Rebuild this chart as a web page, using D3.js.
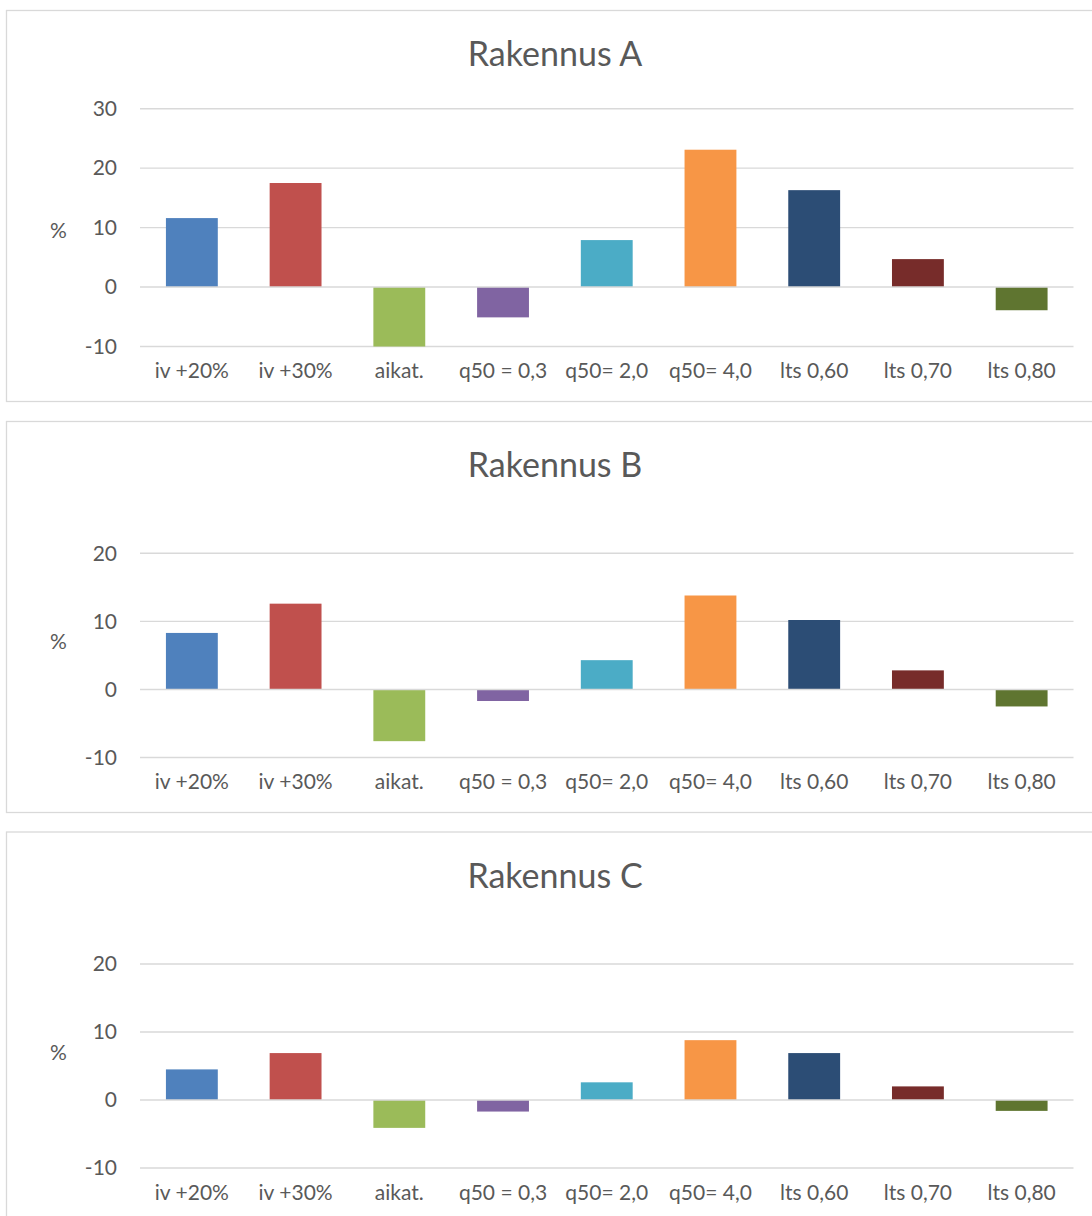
<!DOCTYPE html>
<html>
<head>
<meta charset="utf-8">
<script src="https://cdn.jsdelivr.net/npm/d3@7"></script>
<style>
  html, body { margin: 0; padding: 0; background: #ffffff; }
  svg { display: block; }
  text { font-family: Lato, "Noto Sans", sans-serif; fill: #595959; }
</style>
</head>
<body>
<svg id="chart" width="1092" height="1216"></svg>
<script>
// Scenario categories shared by all three buildings
const categories = ["iv +20%", "iv +30%", "aikat.", "q50 = 0,3", "q50= 2,0", "q50= 4,0", "lts 0,60", "lts 0,70", "lts 0,80"];
const barColors = ["#4F81BD", "#C0504D", "#9BBB59", "#8064A2", "#4BACC6", "#F79646", "#2C4D75", "#772C2A", "#5F7530"];

// Change (%) per scenario
const valuesA = [11.6, 17.5, -10.0, -5.1, 7.9, 23.1, 16.3, 4.7, -3.9];
const valuesB = [8.3, 12.6, -7.6, -1.7, 4.3, 13.8, 10.2, 2.8, -2.5];
const valuesC = [4.5, 6.9, -4.1, -1.7, 2.6, 8.8, 6.9, 2.0, -1.6];

// Value-axis ticks
const ticksA = [-10, 0, 10, 20, 30];
const ticksB = [-10, 0, 10, 20];
const ticksC = [-10, 0, 10, 20];

const titles = ["Rakennus A", "Rakennus B", "Rakennus C"];

const svg = d3.select("#chart");
const plotLeft = 140, plotRight = 1073.5;

function drawPanel(top, title, values, ticks, plotTop) {
  const g = svg.append("g").attr("transform", `translate(0,${top})`);

  // chart frame
  g.append("rect")
    .attr("x", 6.5).attr("y", 0.5)
    .attr("width", 1120).attr("height", 391)
    .attr("fill", "#ffffff")
    .attr("stroke", "#d9d9d9").attr("stroke-width", 1.3);

  const x = d3.scaleBand().domain(categories).range([plotLeft, plotRight]).paddingInner(0.5).paddingOuter(0.25);
  const y = d3.scaleLinear().domain(d3.extent(ticks)).range([336.5, plotTop]);

  // gridlines
  g.append("g").selectAll("line").data(ticks.filter(t => t !== 0)).join("line")
    .attr("x1", plotLeft).attr("x2", plotRight)
    .attr("y1", d => y(d)).attr("y2", d => y(d))
    .attr("stroke", "#d9d9d9").attr("stroke-width", 1.4);

  // bars
  g.append("g").selectAll("rect").data(values).join("rect")
    .attr("x", (d, i) => x(categories[i]))
    .attr("width", x.bandwidth())
    .attr("y", d => y(Math.max(0, d)))
    .attr("height", d => Math.abs(y(d) - y(0)))
    .attr("fill", (d, i) => barColors[i]);

  // category axis line at zero
  g.append("line")
    .attr("x1", plotLeft).attr("x2", plotRight)
    .attr("y1", y(0)).attr("y2", y(0))
    .attr("stroke", "#d9d9d9").attr("stroke-width", 1.4);

  // value-axis labels
  const yAxis = d3.axisLeft(y).tickValues(ticks).tickSize(0).tickPadding(0).tickFormat(d => String(d));
  const ya = g.append("g").attr("transform", "translate(117,0)").call(yAxis);
  ya.select(".domain").remove();
  ya.selectAll("text").attr("font-size", 21).style("font-family", "Lato").attr("fill", "#595959");

  // category labels
  const xAxis = d3.axisBottom(x).tickSize(0).tickPadding(0);
  const xa = g.append("g").attr("transform", "translate(0,353.5)").call(xAxis);
  xa.select(".domain").remove();
  xa.selectAll("text").attr("font-size", 21).attr("dy", "0.71em").attr("y", 0)
    .style("font-family", "Lato").attr("fill", "#595959");

  // unit label
  g.append("text")
    .attr("x", 58.5).attr("y", 221).attr("dy", "0.35em")
    .attr("text-anchor", "middle").attr("font-size", 21)
    .text("%");

  // title
  g.append("text")
    .attr("x", 555).attr("y", 56)
    .attr("text-anchor", "middle").attr("font-size", 34)
    .text(title);
}

drawPanel(10, titles[0], valuesA, ticksA, 108.7 - 10);
drawPanel(421, titles[1], valuesB, ticksB, 553.3 - 421);
drawPanel(831.5, titles[2], valuesC, ticksC, 964 - 831.5);
</script>
</body>
</html>
